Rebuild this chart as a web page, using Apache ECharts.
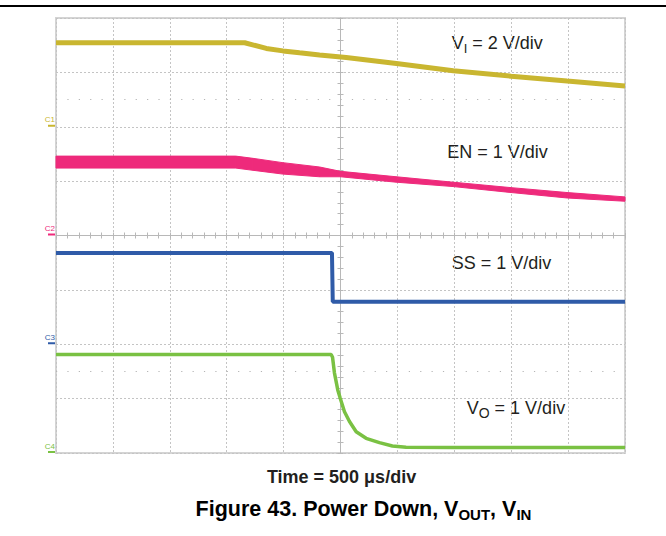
<!DOCTYPE html>
<html>
<head>
<meta charset="utf-8">
<title>Figure 43. Power Down</title>
<script src="https://cdn.jsdelivr.net/npm/echarts@6/dist/echarts.min.js"></script>
<style>
    html, body { margin: 0; padding: 0; background: #fff; }
    #chart { width: 666px; height: 536px; }
</style>
</head>
<body>
<div id="chart"></div>
<script>
const FONT = '"Liberation Sans", Arial, Helvetica, sans-serif';
const TEXT = '#231f20';

// scope channels: ground marker position (divisions from centre) and V/div
const channelNames = ['C1', 'C2', 'C3', 'C4'];
const channelGround = [2, 0, -2, -4];
const channelScale = [2, 1, 1, 1];
const channelColors = ['#c9b630', '#ee2a7b', '#2f5ba8', '#7ac143'];

// time in µs from the trigger (screen centre), 500 µs/div
const viTime = [-2500, -842, -652, -506, -360, -184, 50, 491, 991, 1500, 1991, 2500];
const viVolts = [3.09, 3.09, 2.88, 2.79, 2.72, 2.64, 2.55, 2.33, 2.06, 1.86, 1.68, 1.50];

// EN is a noisy band, so keep its top and bottom edge
const enTime = [-2500, -921, -772, -509, -184, 0, 491, 991, 1500, 1991, 2500];
const enHigh = [1.46, 1.46, 1.42, 1.34, 1.26, 1.18, 1.08, 0.98, 0.88, 0.79, 0.71];
const enLow = [1.24, 1.24, 1.20, 1.13, 1.08, 1.08, 0.98, 0.90, 0.79, 0.69, 0.63];

const ssTime = [-2500, -75, -68, 2500];
const ssVolts = [1.68, 1.68, 0.78, 0.78];

const voTime = [-2500, -82, -70, -53, -24, -3, 35, 79, 138, 225, 342, 456, 576, 1000, 2500];
const voVolts = [1.81, 1.81, 1.76, 1.47, 1.16, 1.01, 0.76, 0.58, 0.39, 0.27, 0.19, 0.13, 0.105, 0.10, 0.10];

// cursor dot rows (divisions)
const dotRows = [2.5, -2.5];

function toDiv(ch, volts) {
    return channelGround[ch] + volts / channelScale[ch];
}
function trace(ch, times, volts) {
    return times.map((t, i) => [t, toDiv(ch, volts[i])]);
}

const enBand = enTime.map((t, i) => [t, toDiv(1, enLow[i]), toDiv(1, enHigh[i])]);

const grey = '#c4c4c4';
const tickStyle = { color: '#b8b8b8', width: 1 };

// rich styles for the channel markers at the left edge
const markerRich = {};
channelColors.forEach((c, i) => {
    markerRich['t' + i] = { color: c, fontSize: 8, fontFamily: FONT, lineHeight: 10, align: 'right' };
    markerRich['m' + i] = { backgroundColor: c, width: 7, height: 2, align: 'right' };
});

const labelRich = {
    m: { fontSize: 18, fontFamily: FONT, fill: TEXT, lineHeight: 24 },
    s: { fontSize: 13, fontFamily: FONT, fill: TEXT, lineHeight: 13, verticalAlign: 'bottom' },
    so: { fontSize: 14, fontFamily: FONT, fill: TEXT, lineHeight: 14, verticalAlign: 'bottom' }
};
const captionRich = {
    b: { fontSize: 21.5, fontWeight: 'bold', fontFamily: FONT, fill: '#000', lineHeight: 26 },
    s: { fontSize: 15, fontWeight: 'bold', fontFamily: FONT, fill: '#000', lineHeight: 15, verticalAlign: 'bottom' }
};

function textAt(x, y, text, rich, align) {
    return {
        type: 'text', x: x, y: y, silent: true,
        style: { text: text, rich: rich, align: align || 'left', verticalAlign: 'middle', fill: TEXT }
    };
}

const chart = echarts.init(document.getElementById('chart'), null, { renderer: 'svg' });

const option = {
    animation: false,
    backgroundColor: '#fff',
    grid: {
        left: 56, right: 41, top: 18, bottom: 83,
        show: true, borderColor: '#d4d4d4', borderWidth: 2,
        outerBoundsMode: 'none'
    },
    xAxis: [
        {
            type: 'value', min: -2500, max: 2500, interval: 500,
            position: 'bottom',
            axisLine: { show: true, onZero: true, onZeroAxisIndex: 0, lineStyle: tickStyle },
            axisTick: { show: true, length: 3, lineStyle: tickStyle },
            minorTick: { show: true, splitNumber: 5, length: 3, lineStyle: tickStyle },
            axisLabel: { show: false },
            splitLine: { show: true, lineStyle: { color: grey, type: [2, 2], width: 1 } }
        },
        {
            // upper half of the ticks on the horizontal centre line
            type: 'value', min: -2500, max: 2500, interval: 500,
            position: 'top',
            axisLine: { show: false, onZero: true, onZeroAxisIndex: 0 },
            axisTick: { show: true, length: 3, lineStyle: tickStyle },
            minorTick: { show: true, splitNumber: 5, length: 3, lineStyle: tickStyle },
            axisLabel: { show: false },
            splitLine: { show: false }
        }
    ],
    yAxis: [
        {
            type: 'value', min: -4, max: 4, interval: 1,
            position: 'left',
            axisLine: { show: true, onZero: true, onZeroAxisIndex: 0, lineStyle: tickStyle },
            axisTick: { show: true, length: 3, lineStyle: tickStyle },
            minorTick: { show: true, splitNumber: 5, length: 3, lineStyle: tickStyle },
            axisLabel: { show: false },
            splitLine: { show: true, lineStyle: { color: grey, type: [2, 2], width: 1 } }
        },
        {
            type: 'value', min: -4, max: 4, interval: 1,
            position: 'right',
            axisLine: { show: false, onZero: true, onZeroAxisIndex: 0 },
            axisTick: { show: true, length: 3, lineStyle: tickStyle },
            minorTick: { show: true, splitNumber: 5, length: 3, lineStyle: tickStyle },
            axisLabel: { show: false },
            splitLine: { show: false }
        },
        {
            // channel ground markers C1..C4
            type: 'value', min: -4, max: 4, interval: 1,
            position: 'left',
            axisLine: { show: false, onZero: false },
            axisTick: { show: false },
            splitLine: { show: false },
            axisLabel: {
                show: true, margin: 1, align: 'right', verticalAlign: 'bottom',
                formatter: (v) => {
                    const i = channelGround.indexOf(v);
                    return i < 0 ? '' : `{t${i}|${channelNames[i]}}\n{m${i}|}`;
                },
                rich: markerRich
            }
        }
    ],
    series: [
        {
            name: 'VI', type: 'line', data: trace(0, viTime, viVolts),
            symbol: 'none', silent: true,
            lineStyle: { color: channelColors[0], width: 5 },
            markLine: {
                silent: true, symbol: 'none', label: { show: false },
                lineStyle: { color: '#b5b5b5', width: 1.2, type: [1.2, 10.18] },
                data: dotRows.map(v => ({ yAxis: v }))
            }
        },
        {
            name: 'EN', type: 'custom', data: enBand,
            encode: { x: 0, y: [1, 2] }, silent: true,
            renderItem(params, api) {
                const i = params.dataIndex;
                if (i >= enBand.length - 1) return null;
                const a = enBand[i];
                const b = enBand[i + 1];
                return {
                    type: 'polygon',
                    shape: { points: [api.coord([a[0], a[2]]), api.coord([b[0], b[2]]), api.coord([b[0], b[1]]), api.coord([a[0], a[1]])] },
                    style: { fill: channelColors[1], stroke: channelColors[1], lineWidth: 1 }
                };
            }
        },
        {
            name: 'SS', type: 'line', data: trace(2, ssTime, ssVolts),
            symbol: 'none', silent: true,
            lineStyle: { color: channelColors[2], width: 4 }
        },
        {
            name: 'VO', type: 'line', data: trace(3, voTime, voVolts),
            symbol: 'none', silent: true,
            lineStyle: { color: channelColors[3], width: 3.5 }
        }
    ],
    graphic: [
        {
            type: 'line', silent: true,
            shape: { x1: 0, y1: 6, x2: 666, y2: 6 },
            style: { stroke: '#000', lineWidth: 2 }
        },
        textAt(451.7, 43, '{m|V}{s|I}{m| = 2 V/div}', labelRich),
        textAt(447.3, 152, '{m|EN = 1 V/div}', labelRich),
        textAt(451.7, 263, '{m|SS = 1 V/div}', labelRich),
        textAt(466.7, 408, '{m|V}{so|O}{m| = 1 V/div}', labelRich),
        {
            type: 'text', x: 341.5, y: 477, silent: true,
            style: {
                text: 'Time = 500 μs/div', font: 'bold 18px ' + FONT, fill: TEXT,
                align: 'center', verticalAlign: 'middle'
            }
        },
        textAt(363.5, 509, '{b|Figure 43. Power Down, V}{s|OUT}{b|, V}{s|IN}', captionRich, 'center')
    ]
};

chart.setOption(option);
</script>
</body>
</html>
